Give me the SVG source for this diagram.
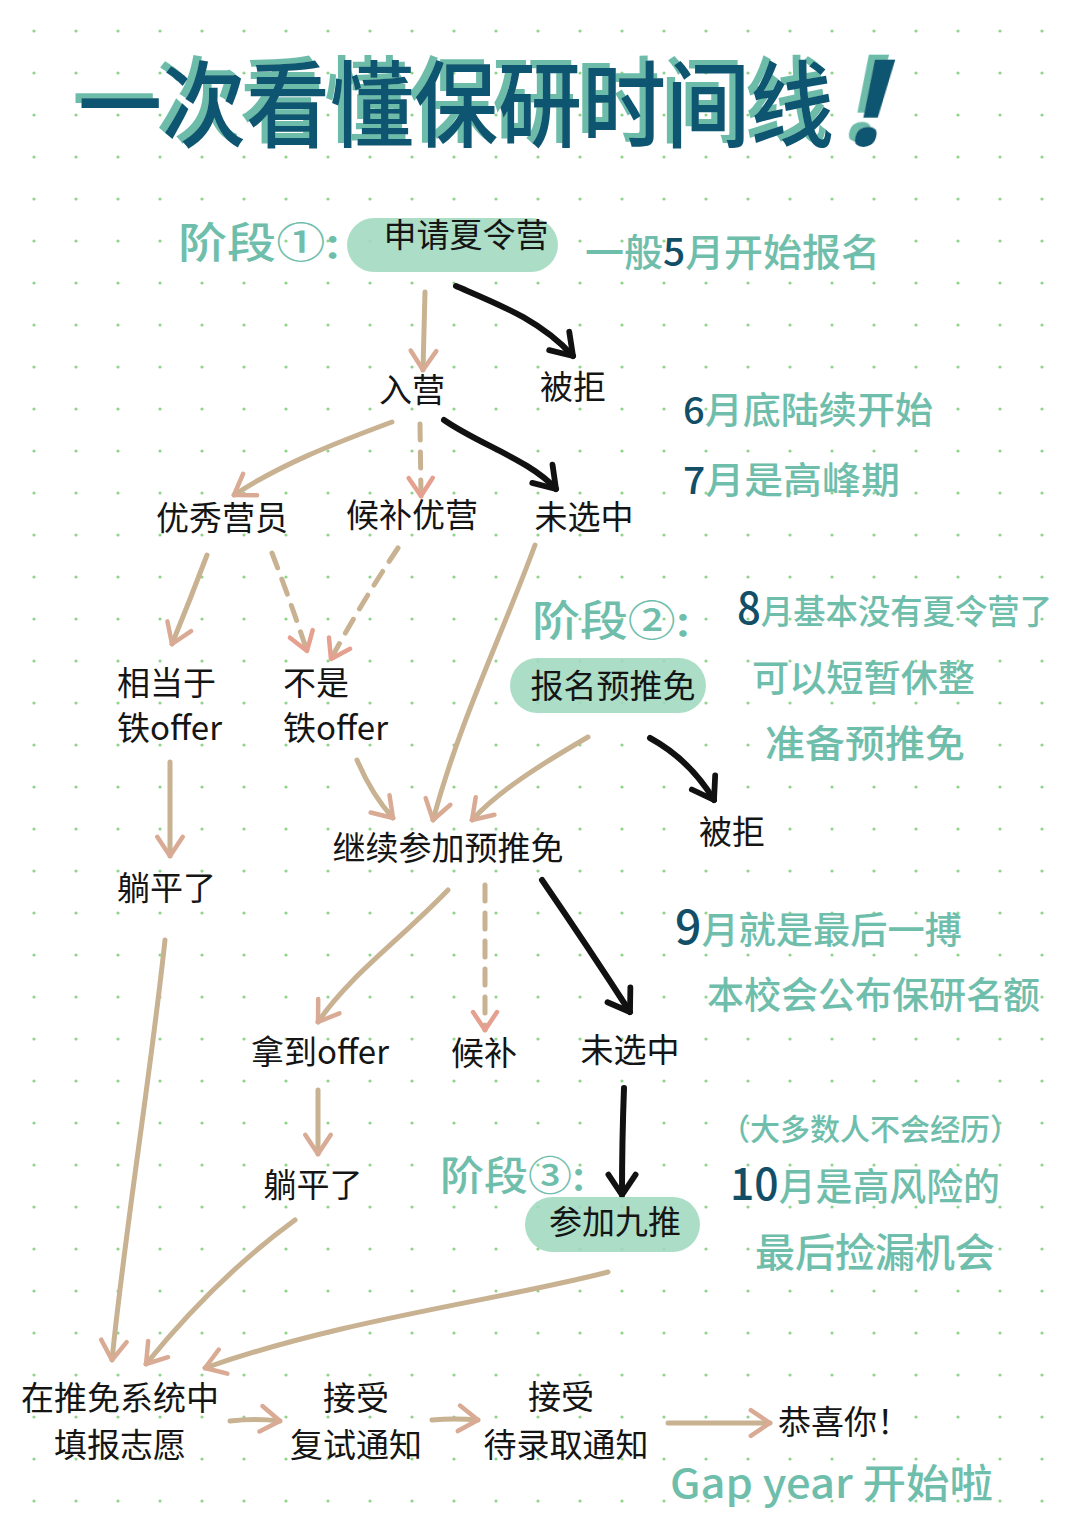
<svg xmlns="http://www.w3.org/2000/svg" width="1080" height="1531" viewBox="0 0 1080 1531">
<defs>
<pattern id="dots" x="13" y="10" width="42" height="42" patternUnits="userSpaceOnUse">
<circle cx="21" cy="21" r="1.6" fill="#8fd48a"/>
</pattern>
<filter id="shadow" x="-5%" y="-20%" width="110%" height="140%">
<feOffset in="SourceAlpha" dx="-6" dy="-5" result="o"/>
<feFlood flood-color="#6dbcaa"/>
<feComposite in2="o" operator="in" result="s"/>
<feMerge><feMergeNode in="s"/><feMergeNode in="SourceGraphic"/></feMerge>
</filter>
<marker id="ah-tan" viewBox="0 0 20 20" refX="16" refY="10" markerUnits="userSpaceOnUse" markerWidth="32" markerHeight="32" orient="auto">
<path d="M4,2 L16,10 L4,18" fill="none" stroke="#d9aa94" stroke-width="2.8" stroke-linecap="round" stroke-linejoin="round"/>
</marker>
<marker id="ah-pink" viewBox="0 0 20 20" refX="16" refY="10" markerUnits="userSpaceOnUse" markerWidth="30" markerHeight="30" orient="auto">
<path d="M4,2 L16,10 L4,18" fill="none" stroke="#e6a08f" stroke-width="3" stroke-linecap="round" stroke-linejoin="round"/>
</marker>
<marker id="ah-black" viewBox="0 0 20 20" refX="16" refY="10" markerUnits="userSpaceOnUse" markerWidth="34" markerHeight="34" orient="auto">
<path d="M4,2 L16,10 L4,18" fill="none" stroke="#111" stroke-width="3.4" stroke-linecap="round" stroke-linejoin="round"/>
</marker>
<style>
.t{font-family:"Noto Sans CJK SC","Noto Sans",sans-serif;font-size:33px;fill:#151515;}
.tm{text-anchor:middle;}
.hw{font-family:"Noto Sans CJK SC","Noto Sans",sans-serif;font-weight:500;fill:#6fbeac;}
.dk{fill:#124f67;}
.pill{fill:#9fd8bf;fill-opacity:0.88;}
.tan{fill:none;stroke:#c8b292;stroke-width:5;stroke-linecap:round;stroke-linejoin:round;marker-end:url(#ah-tan);}
.dash{fill:none;stroke:#c8b292;stroke-width:5;stroke-linecap:round;stroke-dasharray:16 12;marker-end:url(#ah-pink);}
.blk{fill:none;stroke:#111;stroke-width:6;stroke-linecap:round;stroke-linejoin:round;marker-end:url(#ah-black);}
</style>
</defs>
<rect width="1080" height="1531" fill="#ffffff"/>
<rect width="1080" height="1531" fill="url(#dots)"/>

<g id="title" filter="url(#shadow)">
<text x="78" y="140" font-family="Noto Sans CJK SC,sans-serif" font-weight="500" font-size="94" fill="#0f5570" textLength="756" lengthAdjust="spacingAndGlyphs">一次看懂保研时间线</text>
<text x="853" y="145" font-family="Noto Sans,sans-serif" font-weight="700" font-size="120" fill="#0f5570" transform="skewX(-14) translate(30,0)">!</text>
</g>

<g id="connectors">
<path class="tan" d="M425,292 Q424,330 423,370"/>
<path class="blk" d="M456,286 C500,305 540,320 573,356"/>
<path class="tan" d="M392,422 C330,445 280,465 234,495"/>
<path class="dash" d="M420,424 L421,496"/>
<path class="blk" d="M444,420 C480,445 530,460 556,489"/>
<path class="tan" d="M207,555 Q190,600 172,644"/>
<path class="dash" d="M272,553 Q290,600 307,651"/>
<path class="dash" d="M398,548 Q360,605 331,659"/>
<path class="tan" d="M535,545 C500,640 460,720 433,820"/>
<path class="tan" d="M170,762 L170,856"/>
<path class="tan" d="M357,760 Q372,795 393,818"/>
<path class="tan" d="M588,737 C540,765 500,790 472,820"/>
<path class="blk" d="M650,738 Q690,760 714,800"/>
<path class="tan" d="M448,890 C400,940 350,975 318,1022"/>
<path class="dash" d="M485,885 L485,1030"/>
<path class="blk" d="M542,880 Q590,950 630,1012"/>
<path class="tan" d="M318,1090 L318,1154"/>
<path class="blk" d="M624,1088 Q622,1140 622,1195"/>
<path class="tan" d="M165,940 C150,1080 125,1230 112,1360"/>
<path class="tan" d="M295,1220 C240,1260 190,1310 146,1364"/>
<path class="tan" d="M608,1272 C500,1300 340,1320 205,1368"/>
<path class="tan" d="M230,1421 Q255,1418 280,1421"/>
<path class="tan" d="M432,1420 Q455,1418 478,1420"/>
<path class="tan" d="M668,1423 L770,1423"/>
</g>

<g id="stage1">
<text class="hw" x="178" y="258" font-size="42" textLength="162" lengthAdjust="spacingAndGlyphs">阶段①:</text>
</g>
<g id="n-apply-camp">
<rect class="pill" x="347" y="218" width="211" height="54" rx="27"/>
<text class="t tm" x="466" y="247">申请夏令营</text>
</g>
<g id="note-may">
<text class="hw" x="585" y="266" font-size="38" textLength="295" lengthAdjust="spacingAndGlyphs">一般<tspan class="dk">5</tspan>月开始报名</text>
</g>

<g id="n-enter"><text class="t tm" x="412" y="402">入营</text></g>
<g id="n-reject1"><text class="t tm" x="573" y="399">被拒</text></g>

<g id="note-june">
<text class="hw" x="683" y="424" font-size="37" textLength="250" lengthAdjust="spacingAndGlyphs"><tspan class="dk">6</tspan>月底陆续开始</text>
<text class="hw" x="683" y="494" font-size="37" textLength="217" lengthAdjust="spacingAndGlyphs"><tspan class="dk">7</tspan>月是高峰期</text>
</g>

<g id="n-excellent"><text class="t tm" x="222" y="530">优秀营员</text></g>
<g id="n-waitlist-excellent"><text class="t tm" x="412" y="527">候补优营</text></g>
<g id="n-not-selected1"><text class="t tm" x="584" y="529">未选中</text></g>

<g id="n-iron-offer">
<text class="t" x="117" y="695">相当于</text>
<text class="t" x="117" y="740">铁offer</text>
</g>
<g id="n-not-iron-offer">
<text class="t" x="283" y="695">不是</text>
<text class="t" x="283" y="740">铁offer</text>
</g>

<g id="stage2">
<text class="hw" x="532" y="636" font-size="42" textLength="158" lengthAdjust="spacingAndGlyphs">阶段②:</text>
</g>
<g id="n-apply-pre">
<rect class="pill" x="510" y="658" width="196" height="55" rx="27.5"/>
<text class="t tm" x="613" y="698">报名预推免</text>
</g>
<g id="note-aug">
<text class="hw" x="737" y="624" font-size="34" textLength="315" lengthAdjust="spacingAndGlyphs"><tspan class="dk" font-size="44">8</tspan>月基本没有夏令营了</text>
<text class="hw" x="752" y="692" font-size="37" textLength="223" lengthAdjust="spacingAndGlyphs">可以短暂休整</text>
<text class="hw" x="765" y="757" font-size="38" textLength="200" lengthAdjust="spacingAndGlyphs">准备预推免</text>
</g>

<g id="n-lie-flat1"><text class="t" x="117" y="900">躺平了</text></g>
<g id="n-continue-pre"><text class="t tm" x="448" y="860">继续参加预推免</text></g>
<g id="n-reject2"><text class="t tm" x="732" y="844">被拒</text></g>

<g id="note-sep">
<text class="hw" x="675" y="944" font-size="37" textLength="287" lengthAdjust="spacingAndGlyphs"><tspan class="dk" font-size="46">9</tspan>月就是最后一搏</text>
<text class="hw" x="707" y="1009" font-size="37" textLength="333" lengthAdjust="spacingAndGlyphs">本校会公布保研名额</text>
</g>

<g id="n-got-offer"><text class="t tm" x="320" y="1064">拿到offer</text></g>
<g id="n-waitlist"><text class="t tm" x="484" y="1065">候补</text></g>
<g id="n-not-selected2"><text class="t tm" x="630" y="1062">未选中</text></g>

<g id="n-lie-flat2"><text class="t tm" x="313" y="1197">躺平了</text></g>

<g id="stage3">
<text class="hw" x="440" y="1190" font-size="40" textLength="145" lengthAdjust="spacingAndGlyphs">阶段③:</text>
</g>
<g id="n-sept-push">
<rect class="pill" x="525" y="1197" width="175" height="55" rx="27.5"/>
<text class="t tm" x="615" y="1234">参加九推</text>
</g>
<g id="note-oct">
<text class="hw" x="720" y="1140" font-size="30" textLength="300" lengthAdjust="spacingAndGlyphs">（大多数人不会经历）</text>
<text class="hw" x="730" y="1200" font-size="38" textLength="270" lengthAdjust="spacingAndGlyphs"><tspan class="dk" font-size="44">10</tspan>月是高风险的</text>
<text class="hw" x="755" y="1267" font-size="40" textLength="240" lengthAdjust="spacingAndGlyphs">最后捡漏机会</text>
</g>

<g id="n-fill-system">
<text class="t tm" x="120" y="1410">在推免系统中</text>
<text class="t tm" x="120" y="1457">填报志愿</text>
</g>
<g id="n-accept-interview">
<text class="t tm" x="356" y="1410">接受</text>
<text class="t tm" x="356" y="1457">复试通知</text>
</g>
<g id="n-accept-admission">
<text class="t tm" x="561" y="1409">接受</text>
<text class="t tm" x="566" y="1457">待录取通知</text>
</g>
<g id="n-congrats">
<text class="t" x="778" y="1434">恭喜你！</text>
</g>
<g id="note-gap">
<text class="hw" x="670" y="1498" font-size="40" textLength="323" lengthAdjust="spacingAndGlyphs">Gap year 开始啦</text>
</g>
</svg>
